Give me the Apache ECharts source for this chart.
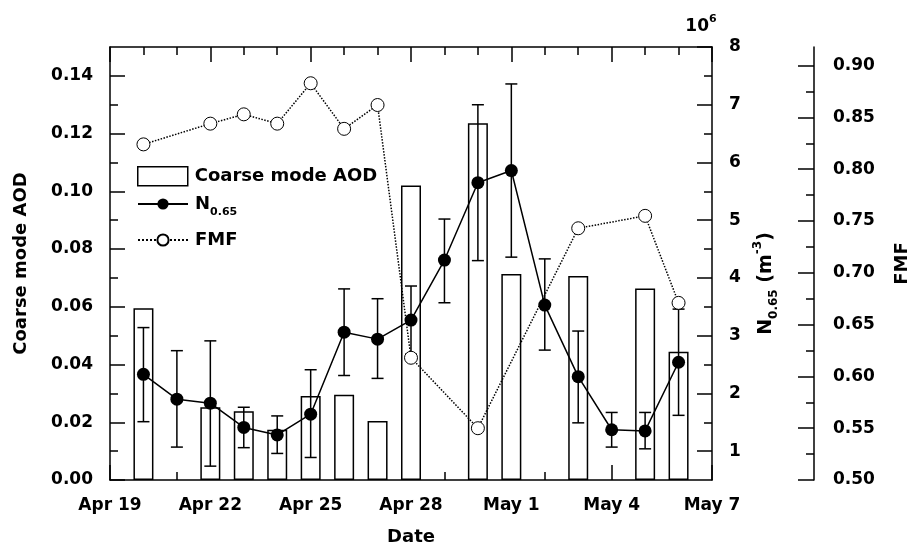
<!DOCTYPE html>
<html><head><meta charset="utf-8">
<script src="https://cdn.jsdelivr.net/npm/echarts@6/dist/echarts.min.js"></script>
<style>html,body{margin:0;padding:0;background:#fff}#c{width:911px;height:547px}</style>
</head><body><div id="c"></div>
<script>
var dates = ['Apr 20','Apr 21','Apr 22','Apr 23','Apr 24','Apr 25','Apr 26','Apr 27','Apr 28','Apr 29','Apr 30','May 1','May 2','May 3','May 4','May 5','May 6'];
var coarseAOD = [0.0595, null, 0.0252, 0.0238, 0.0174, 0.0291, 0.0295, 0.0204, 0.102, null, 0.1236, 0.0714, null, 0.0707, null, 0.0663, 0.0444];
var n065 = [2.33, 1.90, 1.83, 1.41, 1.28, 1.64, 3.06, 2.94, 3.27, 4.31, 5.65, 5.86, 3.53, 2.29, 1.37, 1.35, 2.54];
var n065Low = [1.51, 1.07, 0.74, 1.06, 0.96, 0.89, 2.31, 2.26, 2.68, 3.57, 4.30, 4.36, 2.75, 1.49, 1.07, 1.04, 1.62];
var n065High = [3.14, 2.74, 2.91, 1.76, 1.61, 2.41, 3.81, 3.64, 3.86, 5.02, 7.00, 7.36, 4.33, 3.08, 1.67, 1.67, 3.46];
var fmf = [0.824, null, 0.844, 0.853, 0.844, 0.883, 0.839, 0.862, 0.618, null, 0.550, null, null, 0.743, null, 0.755, 0.671];
var xTickLabels = ['Apr 19','Apr 22','Apr 25','Apr 28','May 1','May 4','May 7'];
var aodTicks = [0, 0.02, 0.04, 0.06, 0.08, 0.10, 0.12, 0.14];
var nTicks = [1, 2, 3, 4, 5, 6, 7, 8];
var fmfTicks = [0.50, 0.55, 0.60, 0.65, 0.70, 0.75, 0.80, 0.85, 0.90];

var MONTHS = {Jan:0,Feb:1,Mar:2,Apr:3,May:4,Jun:5};
function dayIndex(s){
  var p = s.split(' ');
  return Math.round((Date.UTC(2000, MONTHS[p[0]], +p[1]) - Date.UTC(2000, 3, 19)) / 86400000);
}
var xStart = dayIndex(xTickLabels[0]);
var xEnd = dayIndex(xTickLabels[xTickLabels.length - 1]);
var xMajor = xTickLabels.map(dayIndex);
var xMinor = [];
for (var i = xStart; i <= xEnd; i++) if (xMajor.indexOf(i) < 0) xMinor.push(i);
function mids(arr){ var r=[]; for (var i=0;i<arr.length-1;i++) r.push(+((arr[i]+arr[i+1])/2).toFixed(4)); return r; }
var aodMinor = mids(aodTicks);
var nMinor = mids(nTicks);
var fmfMinor = mids(fmfTicks);

var xs = dates.map(dayIndex);
var barData = [], nData = [], errData = [], fmfData = [];
for (var k = 0; k < dates.length; k++) {
  if (coarseAOD[k] != null) barData.push([xs[k], coarseAOD[k]]);
  nData.push([xs[k], n065[k]]);
  errData.push([xs[k], n065Low[k], n065High[k]]);
  if (fmf[k] != null) fmfData.push([xs[k], fmf[k]]);
}

var FONT = 'DejaVu Sans';
var txt = {fontFamily: FONT, fontWeight: 'bold', color: '#000', fontSize: 17};
var LINE = {show: true, onZero: false, lineStyle: {color: '#000', width: 1.5}};
var NOLINE = {show: false, onZero: false};
function ticks(vals, len) {
  return {show: true, inside: true, length: len, customValues: vals, lineStyle: {color: '#000', width: 1.5}};
}

function xAx(o) {
  return Object.assign({type: 'value', min: xStart, max: xEnd, gridIndex: 0, axisLine: NOLINE,
    axisLabel: {show: false}, splitLine: {show: false}}, o);
}
function yAx(o) {
  return Object.assign({type: 'value', gridIndex: 0, axisLine: NOLINE, splitLine: {show: false}, axisLabel: {show: false}}, o);
}

var chart = echarts.init(document.getElementById('c'), null, {renderer: 'canvas'});

var option = {
  animation: false,
  backgroundColor: '#fff',
  textStyle: {fontFamily: FONT},
  grid: {left: 110, right: 199, top: 47, bottom: 67, containLabel: false, outerBoundsMode: 'none'},
  legend: [
    {left: 132, top: 161, orient: 'vertical', itemWidth: 50, itemHeight: 19, selectedMode: false,
     textStyle: Object.assign({}, txt, {fontSize: 18, padding: [0, 0, 0, 2]}),
     data: [{name: 'Coarse mode AOD', icon: 'rect', itemStyle: {color: '#fff', borderColor: '#000', borderWidth: 1.5}}]},
    {left: 132, top: 190, orient: 'vertical', itemWidth: 50, itemHeight: 14, selectedMode: false,
     formatter: function(){ return '{b|N}{s|0.65}'; },
     textStyle: Object.assign({}, txt, {fontSize: 18, padding: [0, 0, 0, 2],
       rich: {b: {fontFamily: FONT, fontWeight: 'bold', fontSize: 18, color: '#000'},
              s: {fontFamily: FONT, fontWeight: 'bold', fontSize: 11, color: '#000', padding: [16, 0, 0, 0]}}}),
     data: ['N0.65']},
    {left: 132, top: 226, orient: 'vertical', itemWidth: 50, itemHeight: 14, selectedMode: false,
     textStyle: Object.assign({}, txt, {fontSize: 18, padding: [0, 0, 0, 2]}),
     data: ['FMF']}
  ],
  xAxis: [
    xAx({position: 'bottom', axisLine: LINE, axisTick: ticks(xMajor, 15),
      axisLabel: Object.assign({show: true, margin: 17, customValues: xMajor,
        formatter: function(v){ var i = xMajor.indexOf(Math.round(v)); return i >= 0 ? xTickLabels[i] : ''; }}, txt),
      name: 'Date', nameLocation: 'middle', nameGap: 48, nameTextStyle: Object.assign({}, txt, {fontSize: 18})}),
    xAx({position: 'bottom', axisTick: ticks(xMinor, 8)}),
    xAx({position: 'top', axisLine: LINE, axisTick: ticks(xMajor, 15)}),
    xAx({position: 'top', axisTick: ticks(xMinor, 8)})
  ],
  yAxis: [
    yAx({position: 'left', min: 0, max: 0.15, axisLine: LINE, axisTick: ticks(aodTicks, 15),
      axisLabel: Object.assign({show: true, margin: 17, customValues: aodTicks, formatter: function(v){ return v.toFixed(2); }}, txt),
      name: 'Coarse mode AOD', nameLocation: 'middle', nameGap: 80, nameRotate: 90,
      nameTextStyle: Object.assign({}, txt, {fontSize: 18})}),
    yAx({position: 'left', min: 0, max: 0.15, axisTick: ticks(aodMinor, 8)}),
    yAx({position: 'right', min: 0.5, max: 8, axisLine: LINE, axisTick: ticks(nTicks, 15),
      axisLabel: Object.assign({show: true, margin: 17, customValues: nTicks}, txt),
      name: '{b|N}{s|0.65}{b| (m}{p|-3}{b|)}', nameLocation: 'middle', nameGap: 40, nameRotate: 90,
      nameTextStyle: Object.assign({}, txt, {fontSize: 19, padding: [0, 40, 0, 0],
        rich: {b: {fontFamily: FONT, fontWeight: 'bold', fontSize: 19, color: '#000'},
               s: {fontFamily: FONT, fontWeight: 'bold', fontSize: 12, color: '#000', padding: [16, 0, 0, 0]},
               p: {fontFamily: FONT, fontWeight: 'bold', fontSize: 12, color: '#000', padding: [0, 0, 16, 0]}}})}),
    yAx({position: 'right', min: 0.5, max: 8, axisTick: ticks(nMinor, 8),
      name: '{b|10}{p|6}', nameLocation: 'end', nameGap: 8,
      nameTextStyle: Object.assign({}, txt, {padding: [0, 22, 0, 0],
        rich: {b: {fontFamily: FONT, fontWeight: 'bold', fontSize: 17, color: '#000'},
               p: {fontFamily: FONT, fontWeight: 'bold', fontSize: 11, color: '#000', padding: [0, 0, 14, 0]}}})}),
    yAx({position: 'right', offset: 102, min: 0.5, max: 0.918, axisLine: LINE, axisTick: ticks(fmfTicks, 16),
      axisLabel: Object.assign({show: true, margin: 19, customValues: fmfTicks, formatter: function(v){ return v.toFixed(2); }}, txt),
      name: 'FMF', nameLocation: 'middle', nameGap: 79, nameRotate: 90,
      nameTextStyle: Object.assign({}, txt, {fontSize: 18})}),
    yAx({position: 'right', offset: 102, min: 0.5, max: 0.918, axisTick: ticks(fmfMinor, 8)})
  ],
  series: [
    {name: 'Coarse mode AOD', type: 'bar', xAxisIndex: 0, yAxisIndex: 0, barWidth: 20, z: 1,
     itemStyle: {color: '#fff', borderColor: '#000', borderWidth: 1.5}, data: barData},
    {name: 'N0.65 err', type: 'custom', xAxisIndex: 0, yAxisIndex: 2, z: 2, data: errData,
     renderItem: function(params, api){
       var x = api.value(0);
       var lo = api.coord([x, api.value(1)]), hi = api.coord([x, api.value(2)]);
       var hw = 6, st = {stroke: '#000', lineWidth: 1.5};
       return {type: 'group', children: [
         {type: 'line', shape: {x1: lo[0], y1: lo[1], x2: hi[0], y2: hi[1]}, style: st},
         {type: 'line', shape: {x1: lo[0]-hw, y1: lo[1], x2: lo[0]+hw, y2: lo[1]}, style: st},
         {type: 'line', shape: {x1: hi[0]-hw, y1: hi[1], x2: hi[0]+hw, y2: hi[1]}, style: st}
       ]};
     }},
    {name: 'N0.65', type: 'line', xAxisIndex: 0, yAxisIndex: 2, z: 3, symbol: 'circle', symbolSize: 13,
     itemStyle: {color: '#000'}, lineStyle: {color: '#000', width: 1.5}, data: nData},
    {name: 'FMF', type: 'line', xAxisIndex: 0, yAxisIndex: 4, z: 4, symbol: 'circle', symbolSize: 13,
     itemStyle: {color: '#fff', borderColor: '#000', borderWidth: 1}, lineStyle: {color: '#000', width: 1.5, type: 'dotted'}, data: fmfData}
  ]
};
chart.setOption(option);
</script>
</body></html>
